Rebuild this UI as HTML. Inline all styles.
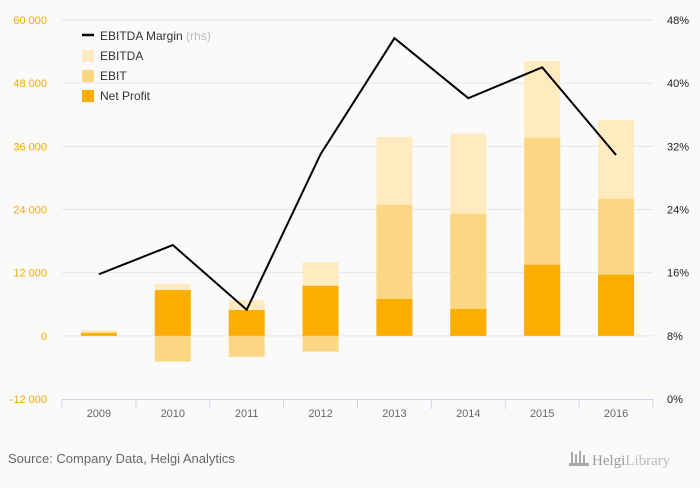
<!DOCTYPE html>
<html><head><meta charset="utf-8"><style>
html,body{margin:0;padding:0;background:#fafafa;}
body{width:700px;height:483px;overflow:hidden;font-family:"Liberation Sans",sans-serif;}
svg text{font-family:"Liberation Sans",sans-serif;}
</style></head><body>
<svg id="chart" width="700" height="483" xmlns="http://www.w3.org/2000/svg">
<rect width="700" height="483" fill="#fafafa"/>
<g id="grid"></g>
<g id="bars"></g>
<g id="line"></g>
<g id="axes"></g>
<g>
  <line x1="82" y1="35" x2="94" y2="35" stroke="#000" stroke-width="2.5"/>
  <text x="100" y="40" font-size="12" fill="#333">EBITDA Margin <tspan fill="#bbb">(rhs)</tspan></text>
  <rect x="82" y="50" width="12" height="12" fill="#ffebbf"/>
  <text x="100" y="60" font-size="12" fill="#333">EBITDA</text>
  <rect x="82" y="70" width="12" height="12" fill="#fcd783"/>
  <text x="100" y="80" font-size="12" fill="#333">EBIT</text>
  <rect x="82" y="90" width="12" height="12" fill="#f9ae00"/>
  <text x="100" y="100" font-size="12" fill="#333">Net Profit</text>
</g>
<text x="8" y="463" font-size="13" fill="#666">Source: Company Data, Helgi Analytics</text>
<g>
  <rect x="571" y="452" width="2" height="12" fill="#aaa"/><rect x="575" y="454" width="2" height="10" fill="#aaa"/><rect x="579" y="451" width="2" height="13" fill="#aaa"/><rect x="583" y="455" width="2" height="9" fill="#aaa"/>
  <rect x="569" y="463" width="20" height="3" fill="#aaa"/>
  <text x="592" y="465" font-size="15" fill="#999" font-family="Liberation Serif" style="font-family:'Liberation Serif',serif">Helgi<tspan fill="#bbb">Library</tspan></text>
</g>
</svg>
<script>
const categories=["2009","2010","2011","2012","2013","2014","2015","2016"];
const ebitda=[1100,9900,6800,14000,37800,38400,52200,41000];
const ebit=[700,-4900,-4000,-3000,24900,23200,37600,26000];
const netProfit=[500,8700,4900,9500,7000,5100,13500,11600];
const margin=[15.8,19.5,11.3,31.0,45.7,38.1,42.0,30.9];
const leftTicks=[-12000,0,12000,24000,36000,48000,60000];
const leftLabels=["-12 000","0","12 000","24 000","36 000","48 000","60 000"];
const rightTicks=[0,8,16,24,32,40,48];

const NS="http://www.w3.org/2000/svg";
const X0=62,X1=653,Y0=20,Y1=399;
const band=(X1-X0)/categories.length, bw=36;
function yL(v){return Y1-(v+12000)/72000*(Y1-Y0);}
function yR(v){return Y1-v/48*(Y1-Y0);}
function xC(i){return X0+band*(i+0.5);}
function mk(tag,attrs,parent){const e=document.createElementNS(NS,tag);for(const k in attrs)e.setAttribute(k,attrs[k]);parent.appendChild(e);return e;}
const grid=document.getElementById('grid'),bars=document.getElementById('bars'),line=document.getElementById('line'),axes=document.getElementById('axes');
leftTicks.forEach((t,i)=>{
  const y=yL(t);
  if(i>0){const g=mk('line',{x1:X0,x2:X1,y1:y,y2:y,stroke:'#e6e6e6','stroke-width':1},grid);
  
  }
  const tx=mk('text',{x:47,y:y+4,'text-anchor':'end','font-size':11,fill:'#f5a800'},axes);
  tx.textContent=leftLabels[i];
  
  
});
rightTicks.forEach(t=>{
  const tx=mk('text',{x:667,y:yR(t)+4,'font-size':11,fill:'#222'},axes);
  tx.textContent=t+'%';
  
  
});
const ax=mk('line',{x1:X0,x2:X1,y1:Y1+0.5,y2:Y1+0.5,stroke:'#ccd6eb'},axes);


for(let i=0;i<=categories.length;i++){
  const x=X0+band*i;
  const tk=mk('line',{x1:x,x2:x,y1:Y1,y2:Y1+10,stroke:'#ccd6eb'},axes);
  
  
}
categories.forEach((c,i)=>{
  const tx=mk('text',{x:xC(i),y:Y1+18,'text-anchor':'middle','font-size':11,fill:'#666'},axes);
  tx.textContent=c;
  
  
  [[ebitda,'#ffebbf','bar-ebitda'],[ebit,'#fcd783','bar-ebit'],[netProfit,'#f9ae00','bar-net-profit']].forEach(([arr,col,nm])=>{
    const v=arr[i],y=Math.min(yL(v),yL(0)),h=Math.abs(yL(v)-yL(0));
    const r=mk('rect',{x:xC(i)-bw/2,y:y,width:bw,height:h,fill:col},bars);
    
    
  });
});
const pl=mk('polyline',{points:margin.map((m,i)=>xC(i)+','+yR(m)).join(' '),fill:'none',stroke:'#000','stroke-width':2},line);


</script>
</body></html>
